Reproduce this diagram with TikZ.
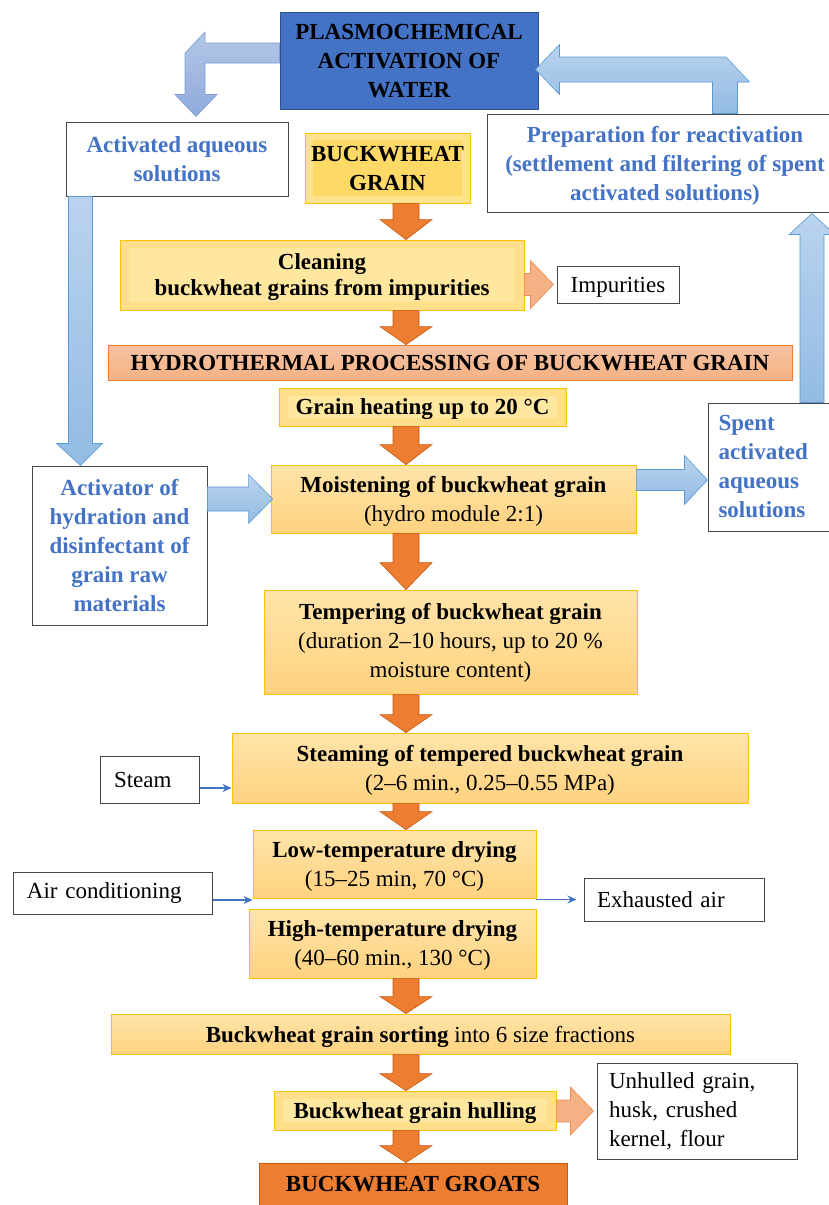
\documentclass[tikz,border=0pt]{standalone}
\usepackage{fontspec}
\setmainfont{Liberation Serif}
\usetikzlibrary{calc,arrows.meta}

\definecolor{plasmablue}{HTML}{4472C4}
\definecolor{plasmaedge}{HTML}{2F528F}
\definecolor{txtblue}{HTML}{4472C4}
\definecolor{goldedge}{HTML}{FFC000}
\definecolor{goldout}{HTML}{FFDF8A}
\definecolor{goldin}{HTML}{FFE7A0}
\definecolor{grainout}{HTML}{FFE38F}
\definecolor{grainin}{HTML}{FFD966}
\definecolor{proctop}{HTML}{FFE4AA}
\definecolor{procbot}{HTML}{FFD27E}
\definecolor{orarrow}{HTML}{ED7D31}
\definecolor{oredge}{HTML}{C55A11}
\definecolor{salmon}{HTML}{F4B183}
\definecolor{salmonedge}{HTML}{F08B55}
\definecolor{hydrotop}{HTML}{F7C3A3}
\definecolor{hydrobot}{HTML}{F4B183}
\definecolor{arrowblue}{HTML}{93BBE3}
\definecolor{arrowbluel}{HTML}{BAD3EE}
\definecolor{arrowedge}{HTML}{5B9BD5}
\definecolor{purpblue}{HTML}{8EA9DB}
\definecolor{purpbluel}{HTML}{B4C7E7}
\definecolor{purpedge}{HTML}{7F9FD6}
\definecolor{thinblue}{HTML}{4472C4}

\newcommand\oradown[3]{%
  \filldraw[orstyle] let \p1=(axis |- #1.south), \p2=(axis |- #2.north) in
    (\x1-13pt,\y1) -- (\x1+13pt,\y1) -- (\x1+13pt,\y2+#3pt) -- (\x1+26pt,\y2+#3pt)
    -- (\x1,\y2) -- (\x1-26pt,\y2+#3pt) -- (\x1-13pt,\y2+#3pt) -- cycle;}
\newcommand\salright[2]{%
  \filldraw[salstyle] let \p1=(#1.east), \p2=(#2.west) in
    (\x1,\y2+11pt) -- (\x2-26pt,\y2+11pt) -- (\x2-26pt,\y2+24pt) -- (\x2-3pt,\y2)
    -- (\x2-26pt,\y2-24pt) -- (\x2-26pt,\y2-11pt) -- (\x1,\y2-11pt) -- cycle;}

\begin{document}
\begin{tikzpicture}[x=1pt,y=-1pt,
  every node/.style={font=\fontsize{23}{29}\selectfont, inner sep=0pt, rectangle, align=center},
  td/.style={text depth=#1pt},
  whitebox/.style={draw=black!72, line width=1pt, fill=white},
  bluetext/.style={text=txtblue, font=\fontsize{23}{29}\selectfont\bfseries},
  plasmabox/.style={fill=plasmablue, draw=plasmaedge, line width=1pt, font=\fontsize{23}{29}\selectfont\bfseries},
  goldbox/.style={fill=goldout, draw=goldedge, line width=0.8pt,
    path picture={\fill[goldin] ([shift={(9pt,-8pt)}]path picture bounding box.north west) rectangle ([shift={(-9pt,8pt)}]path picture bounding box.south east);}},
  grainbox/.style={fill=grainout, draw=goldedge, line width=0.8pt,
    path picture={\fill[grainin] ([shift={(8pt,-7pt)}]path picture bounding box.north west) rectangle ([shift={(-8pt,7pt)}]path picture bounding box.south east);}},
  procbox/.style={top color=proctop, bottom color=procbot, draw=goldedge, line width=0.8pt},
  hydrobox/.style={top color=hydrotop, bottom color=hydrobot, draw=orarrow, line width=0.8pt},
  groatsbox/.style={fill=orarrow, draw=oredge, line width=0.8pt},
  orstyle/.style={fill=orarrow, draw=oredge, line width=0.6pt},
  salstyle/.style={fill=salmon, draw=salmonedge, line width=0.6pt},
  bluearrow/.style={top color=arrowbluel, bottom color=arrowblue, draw=arrowedge, line width=0.6pt},
  purparrow/.style={top color=purpbluel, bottom color=purpblue, draw=purpedge, line width=0.6pt},
  thinarrow/.style={draw=thinblue, line width=1.2pt, -{Stealth[length=9pt,width=8pt]}}
]
\useasboundingbox (0,0) rectangle (829,1205);
\coordinate (axis) at (406,0);

% ---------- nodes ----------
\node[plasmabox, td=-4, minimum width=258pt, minimum height=97pt] (plasma) at (409,60.5) {PLASMOCHEMICAL\\ACTIVATION OF\\WATER};
\node[whitebox, bluetext, minimum width=222pt, minimum height=74pt] (actsol) at (177,159) {Activated aqueous\\solutions};
\node[grainbox, td=-8, minimum width=165pt, minimum height=70pt] (grain) at (387.5,168) {\textbf{BUCKWHEAT}\\\textbf{GRAIN}};
\node[whitebox, bluetext, td=-5, minimum width=356pt, minimum height=98pt] (prep) at (665,163) {Preparation for reactivation\\(settlement and filtering of spent\\activated solutions)};
\node[goldbox, td=-1, minimum width=404pt, minimum height=70pt, font=\fontsize{23}{26}\selectfont] (clean) at (322,275) {\textbf{Cleaning}\\\textbf{buckwheat grains from impurities}};
\node[whitebox, td=-6, minimum width=122pt, minimum height=37pt] (impur) at (618,284.5) {Impurities};
\node[hydrobox, td=-8, minimum width=684pt, minimum height=35pt] (hydro) at (450,362.5) {\textbf{HYDROTHERMAL PROCESSING OF BUCKWHEAT GRAIN}};
\node[goldbox, td=-3, minimum width=287pt, minimum height=38pt] (heat) at (422.5,407) {\textbf{Grain heating up to 20 °C}};
\node[procbox, td=-5, minimum width=365pt, minimum height=68pt] (moist) at (453.5,499) {\textbf{Moistening of buckwheat grain}\\(hydro module 2:1)};
\node[whitebox, bluetext, minimum width=127pt, minimum height=128pt, text width=106pt, align=left] (spent) at (771.5,467) {Spent\\activated\\aqueous\\solutions};
\node[whitebox, bluetext, minimum width=175pt, minimum height=159pt] (actv) at (119.5,545.5) {Activator of\\hydration and\\disinfectant of\\grain raw\\materials};
\node[procbox, td=3, minimum width=373pt, minimum height=104pt] (temper) at (450.5,642) {\textbf{Tempering of buckwheat grain}\\(duration 2–10 hours, up to 20 \%\\moisture content)};
\node[procbox, td=1, minimum width=516pt, minimum height=70pt] (steaming) at (490,768) {\textbf{Steaming of tempered buckwheat grain}\\(2–6 min., 0.25–0.55 MPa)};
\node[whitebox, minimum width=99pt, minimum height=47pt, text width=71pt, align=left] (steam) at (149.5,779.5) {Steam};
\node[procbox, td=-5, minimum width=283pt, minimum height=68pt] (lowdry) at (394.5,864) {\textbf{Low-temperature drying}\\(15–25 min, 70 °C)};
\node[procbox, td=-3, minimum width=287pt, minimum height=69pt] (highdry) at (392.5,943.5) {\textbf{High-temperature drying}\\(40–60 min., 130 °C)};
\node[whitebox, minimum width=199pt, minimum height=42pt, text width=171pt, align=left] (aircond) at (112.5,893) {Air conditioning};
\node[whitebox, minimum width=180pt, minimum height=43pt, text width=154pt, align=left] (exhaust) at (674,899.5) {Exhausted air};
\node[procbox, td=-1, minimum width=619pt, minimum height=40pt] (sort) at (420.5,1034) {\textbf{Buckwheat grain sorting} into 6 size fractions};
\node[goldbox, td=-5, minimum width=282pt, minimum height=39pt] (hull) at (415,1110.5) {\textbf{Buckwheat grain hulling}};
\node[whitebox, minimum width=200pt, minimum height=96pt, text width=176pt, align=left] (unhull) at (697,1111) {Unhulled grain,\\husk, crushed\\kernel, flour};
\node[groatsbox, td=4, minimum width=308pt, minimum height=46pt] (groats) at (413,1186) {\textbf{BUCKWHEAT GROATS}};

% ---------- orange flow arrows ----------
\oradown{grain}{clean}{20}
\oradown{clean}{hydro}{18}
\oradown{heat}{moist}{20}
\oradown{moist}{temper}{27}
\oradown{temper}{steaming}{18}
\oradown{steaming}{lowdry}{18}
\oradown{highdry}{sort}{17}
\oradown{sort}{hull}{17}
\oradown{hull}{groats}{17}

% ---------- salmon side arrows ----------
\salright{clean}{impur}
\salright{hull}{unhull}

% ---------- blue block arrows ----------
\shadedraw[purparrow] let \p1=(plasma.west), \p2=(actsol.north) in
  (\x1,\y1+17.5pt) -- (\x2+28pt,\y1+17.5pt) -- (\x2+28pt,\y1+28.5pt) -- (\x2+8pt,\y1+7.5pt)
  -- (\x2+8pt,\y2+27pt) -- (\x2-2pt,\y2+27pt) -- (\x2+19pt,\y2+5pt) -- (\x2+40pt,\y2+27pt)
  -- (\x2+28pt,\y2+27pt) -- (\x2+28pt,\y1-2.5pt) -- (\x1,\y1-2.5pt) -- cycle;

\shadedraw[bluearrow] let \p1=(prep.north west), \p2=(plasma.east) in
  (\x1+226pt,\y1) -- (\x1+226pt,\y2-21.5pt) -- (\x2+21pt,\y2-21.5pt) -- (\x2+21pt,\y2-34pt)
  -- (\x2-3pt,\y2-9pt) -- (\x2+21pt,\y2+16pt) -- (\x2+21pt,\y2+3.5pt) -- (\x1+239.5pt,\y2+3.5pt)
  -- (\x1+263pt,\y2-21.5pt) -- (\x1+251pt,\y2-21.5pt) -- (\x1+251pt,\y1) -- cycle;

\shadedraw[bluearrow] let \p1=(actsol.south west), \p2=(actv.north) in
  (\x1+3pt,\y1) -- (\x1+27pt,\y1) -- (\x1+27pt,\y2+22pt) -- (\x1+37pt,\y2+22pt)
  -- (\x1+15pt,\y2) -- (\x1-9pt,\y2+22pt) -- (\x1+3pt,\y2+22pt) -- cycle;

\shadedraw[bluearrow] let \p1=(actv.east), \p2=(moist.west) in
  (\x1,\y2+12pt) -- (\x2-22pt,\y2+12pt) -- (\x2-22pt,\y2+24.5pt) -- (\x2+2pt,\y2)
  -- (\x2-22pt,\y2-24.5pt) -- (\x2-22pt,\y2-12pt) -- (\x1,\y2-12pt) -- cycle;

\shadedraw[bluearrow] let \p1=(moist.east), \p2=(spent.west) in
  (\x1,\y1+29.5pt) -- (\x2-23pt,\y1+29.5pt) -- (\x2-23pt,\y1+43.5pt) -- (\x2,\y1+19pt)
  -- (\x2-23pt,\y1-5.5pt) -- (\x2-23pt,\y1+8.5pt) -- (\x1,\y1+8.5pt) -- cycle;

\shadedraw[bluearrow] let \p1=(spent.north), \p2=(prep.south) in
  (\x1+28.5pt,\y1) -- (\x1+28.5pt,\y2-22pt) -- (\x1+17.5pt,\y2-22pt) -- (\x1+40.5pt,\y2-1pt)
  -- (\x1+63.5pt,\y2-22pt) -- (\x1+52.5pt,\y2-22pt) -- (\x1+52.5pt,\y1) -- cycle;

% ---------- thin blue arrows ----------
\coordinate (s1) at ($(steam.east)+(0,8.5)$);
\draw[thinarrow] (s1) -- (s1 -| steaming.west);
\coordinate (a1) at ($(aircond.east)+(0,7)$);
\draw[thinarrow] (a1) -- (a1 -| lowdry.west);
\coordinate (e1) at (lowdry.east |- exhaust.west);
\draw[thinarrow] (e1) -- ($(exhaust.west)+(-7,0)$);
\end{tikzpicture}
\end{document}
